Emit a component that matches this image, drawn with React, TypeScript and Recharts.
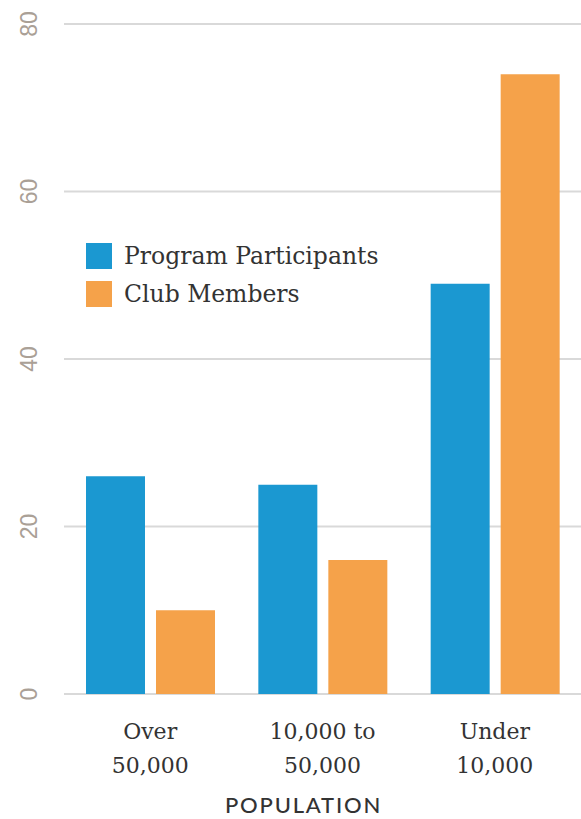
import React from "react";
import { BarChart, Bar, XAxis, YAxis, CartesianGrid, Legend } from "recharts";

const categories = ["Over 50,000", "10,000 to 50,000", "Under 10,000"];
const categoryLines = [["Over", "50,000"], ["10,000 to", "50,000"], ["Under", "10,000"]];
const programParticipants = [26, 25, 49];
const clubMembers = [10, 16, 74];
const yTicks = [0, 20, 40, 60, 80];
const seriesOrder = ["participants", "members"];

const data = categories.map((c, i) => ({
  name: c,
  participants: programParticipants[i],
  members: clubMembers[i],
}));

const BLUE = "#1b98d1";
const ORANGE = "#f5a24a";

const XTick = (props: any) => {
  const { x, y, payload } = props;
  const lines = categoryLines[payload.index] || [payload.value];
  return (
    <text x={x} y={y} textAnchor="middle" fill="#333" fontFamily="'DejaVu Serif', serif" fontSize={22}>
      {lines.map((l: string, i: number) => (
        <tspan key={i} x={x} dy={i === 0 ? 37 : 34}>{l}</tspan>
      ))}
    </text>
  );
};

const YTick = (props: any) => {
  const { y, payload } = props;
  return (
    <text
      x={29}
      y={y}
      transform={`rotate(-90, 29, ${y})`}
      textAnchor="middle"
      dominantBaseline="central"
      fill="#aaa096"
      fontFamily="'Liberation Sans', Arial, sans-serif"
      fontSize={23}
    >
      {payload.value}
    </text>
  );
};

const LegendContent = (props: any) => {
  const payload = [...(props.payload || [])].sort(
    (a: any, b: any) => seriesOrder.indexOf(a.dataKey) - seriesOrder.indexOf(b.dataKey)
  );
  return (
    <div>
      {payload.map((p: any, i: number) => (
        <div key={i} style={{ display: "flex", alignItems: "center", height: 38 }}>
          <div style={{ width: 26, height: 26, background: p.color, marginRight: 12 }} />
          <span style={{ fontFamily: "'DejaVu Serif', serif", fontSize: 23.5, color: "#333" }}>{p.value}</span>
        </div>
      ))}
    </div>
  );
};

export default function App() {
  return (
    <div style={{ position: "absolute", left: 0, top: 0, background: "#fff" }}>
      <BarChart
        width={581}
        height={819}
        data={data}
        margin={{ top: 24, right: 0, left: 0, bottom: 0 }}
        barSize={59}
        barGap={11}
      >
        <CartesianGrid vertical={false} stroke="#d9d9d9" strokeWidth={2} />
        <XAxis
          dataKey="name"
          axisLine={false}
          tickLine={false}
          height={125}
          interval={0}
          tick={<XTick />}
          label={{
            value: "POPULATION",
            position: "insideBottom",
            offset: 6,
            dx: -19,
            fill: "#333",
            fontSize: 22,
            fontWeight: 500,
            letterSpacing: 1.8,
            fontFamily: "Lato, 'Noto Sans', sans-serif",
          }}
        />
        <YAxis
          width={64}
          domain={[0, 80]}
          ticks={yTicks}
          axisLine={false}
          tickLine={false}
          tick={<YTick />}
        />
        <Legend
          layout="horizontal"
          verticalAlign="middle"
          align="center"
          content={<LegendContent />}
          wrapperStyle={{ left: 86, top: 237, width: 320 }}
        />
        <Bar dataKey="participants" name="Program Participants" fill={BLUE} isAnimationActive={false} />
        <Bar dataKey="members" name="Club Members" fill={ORANGE} isAnimationActive={false} />
      </BarChart>
    </div>
  );
}
